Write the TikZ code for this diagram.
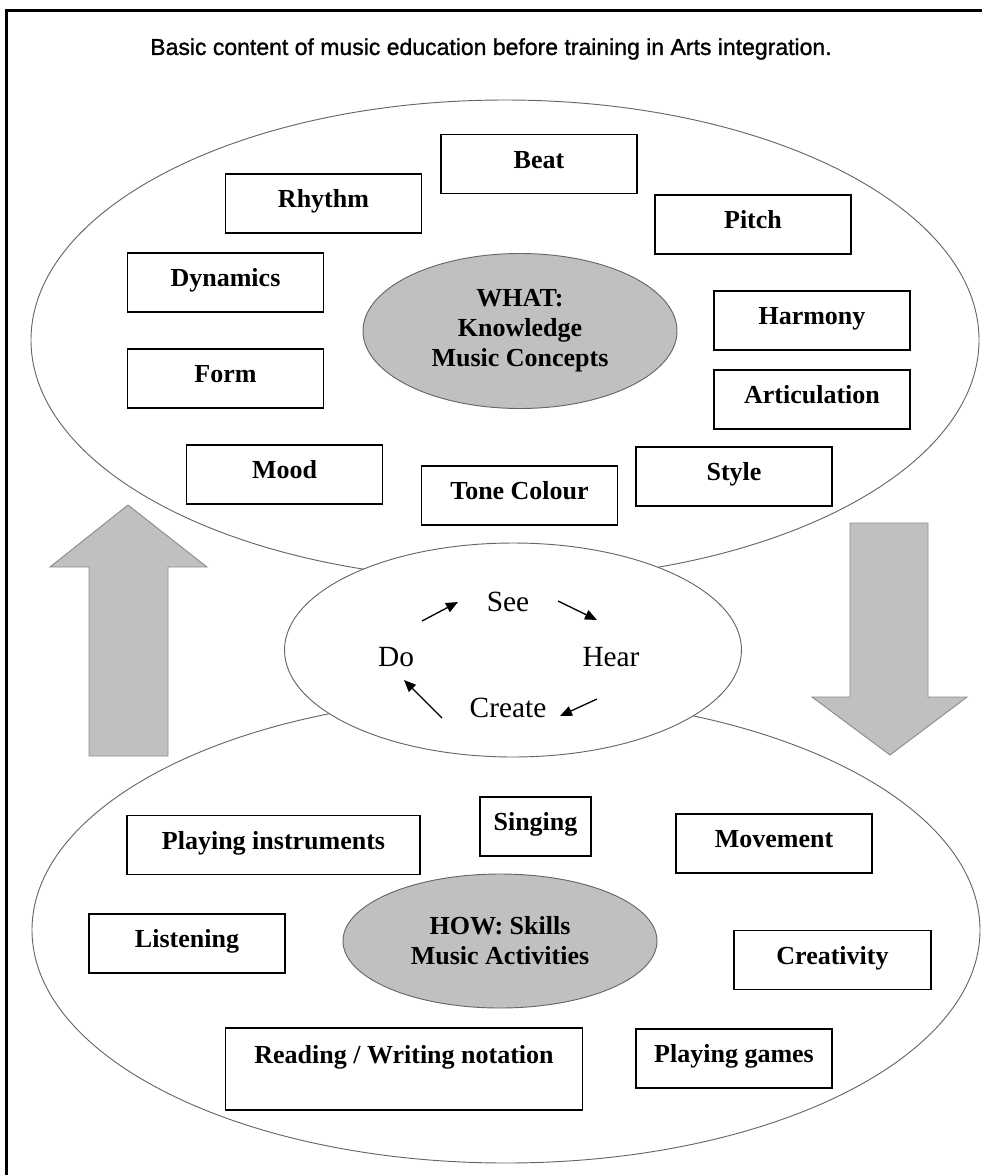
\documentclass[tikz,border=0pt]{standalone}
\usepackage{fontspec}
\setmainfont{Liberation Serif}
\newfontfamily\titrefont[FakeBold=1.2]{Liberation Sans}
\usepackage{tikz}
\usetikzlibrary{shapes.geometric, arrows.meta}
\definecolor{grisclair}{HTML}{C0C0C0}
\definecolor{grisbord}{HTML}{8C8C8C}
\tikzset{
  boite/.style={draw, line width=1.2pt, inner sep=0pt, minimum height=44.25pt,
    font=\fontsize{19.5pt}{22.5pt}\selectfont\bfseries, text height=13.5pt, text depth=7.5pt},
  bulle/.style={ellipse, draw=black!60, fill=grisclair, line width=0.7pt, inner sep=0pt,
    align=center, font=\fontsize{19.5pt}{22.5pt}\selectfont\bfseries},
  etape/.style={font=\fontsize{22pt}{26pt}\selectfont},
  fleche/.style={line width=1pt, -{Triangle[length=9pt,width=7.5pt]}},
  grossefleche/.style={draw=grisbord, fill=grisclair, line width=0.7pt}
}

\begin{document}
\begin{tikzpicture}[x=0.75pt, y=-0.75pt]
          \useasboundingbox (0,0) rectangle (982,1175);

          % Cadre
          \draw[line width=2.25pt] (6,1175) -- (6,10) -- (982,10);

          % Titre
          \node[font=\titrefont\fontsize{17.25pt}{20pt}\selectfont] (titre) at (491,49)
            {Basic content of music education before training in Arts integration.};

          % Grandes ellipses
          \draw[black!60, line width=0.7pt] (505,340) ellipse [x radius=355.5pt, y radius=180pt];
          \draw[black!60, line width=0.7pt] (506,930) ellipse [x radius=355.5pt, y radius=174.75pt];

          % Ellipse centrale
          \node[ellipse, draw=black!60, fill=white, line width=0.7pt, inner sep=0pt,
            minimum width=342.75pt, minimum height=160.5pt] (centre) at (513,650) {};

          % Cycle
          \node[etape] (see) at (508,602) {See};
          \node[etape] (hear) at (611,657) {Hear};
          \node[etape] (create) at (508,708) {Create};
          \node[etape] (do) at (396,657) {Do};
          \draw[fleche] ([shift={(26,-36)}]do.center) -- ([shift={(-50,0)}]see.center);
          \draw[fleche] ([shift={(50,-1)}]see.center) -- ([shift={(-14,-37)}]hear.center);
          \draw[fleche] ([shift={(-14,42)}]hear.center) -- ([shift={(52,8)}]create.center);
          \draw[fleche] ([shift={(-66,10)}]create.center) -- ([shift={(8,23)}]do.center);

          % Grosses flèches
          \draw[grossefleche] (89,756) -- (89,567) -- (50,567) -- (128,505) -- (207,567)
            -- (168,567) -- (168,756) -- cycle;
          \draw[grossefleche] (850,523) -- (928,523) -- (928,697) -- (967,697) -- (890,755)
            -- (812,697) -- (850,697) -- cycle;

          % WHAT / HOW
          \node[bulle, minimum width=235.5pt, minimum height=116.25pt] (what) at (520,331)
            {WHAT:\\Knowledge\\Music Concepts};
          \node[bulle, minimum width=235.5pt, minimum height=100.5pt] (how) at (500,941)
            {HOW: Skills\\Music Activities};

          % Concepts (haut)
          \foreach \nom/\x/\y/\texte in {beat/539/164/Beat, rhythm/323.5/203.5/Rhythm,
            pitch/753/224.5/Pitch, dynamics/225.5/282.5/Dynamics, harmony/812/320.5/Harmony,
            form/225.5/378.5/Form, articulation/812/399.5/Articulation, mood/284.5/474.5/Mood,
            style/734/476.5/Style, tone/519.5/495.5/Tone Colour} {
            \node[boite, minimum width=147pt] (\nom) at (\x,\y) {\texte};
          }

          % Activités (bas)
          \foreach \nom/\x/\y/\l/\texte in {instruments/273.5/845/219.75/Playing instruments,
            singing/535.5/826.5/83.25/Singing, movement/774/843.5/147/Movement,
            listening/187/943.5/147/Listening, creativity/832.5/960/147.75/Creativity,
            games/734/1058.5/147/Playing games} {
            \node[boite, minimum width=\l pt] (\nom) at (\x,\y) {\texte};
          }
          \node[boite, minimum width=267.75pt, minimum height=61.5pt, text depth=22.5pt]
            (reading) at (404,1069) {Reading / Writing notation};
        \end{tikzpicture}
\end{document}
